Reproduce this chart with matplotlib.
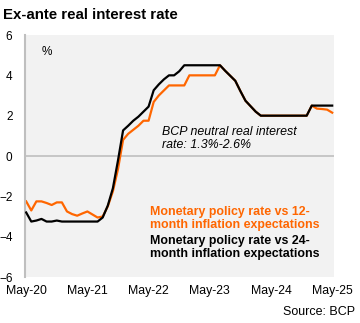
import matplotlib
matplotlib.use("Agg")
import matplotlib.pyplot as plt
import numpy as np

plt.rcParams['font.family'] = ['Liberation Sans', 'DejaVu Sans']

# Monthly observations, May-2020 .. May-2025
months = np.arange(61)
tick_labels = ["May-20", "May-21", "May-22", "May-23", "May-24", "May-25"]
tick_months = [0, 12, 24, 36, 48, 60]

real_rate_12m = [
    -2.25, -2.70, -2.25, -2.25, -2.33, -2.43, -2.30, -2.30, -2.75, -2.88,
    -2.96, -2.85, -2.75, -2.90, -3.05, -3.00, -2.50, -1.75, -0.65, 0.80,
    1.10, 1.30, 1.50, 1.75, 1.75, 2.68, 3.00, 3.25, 3.50, 3.50,
    3.50, 3.50, 4.00, 4.00, 4.00, 4.00, 4.00, 4.00, 4.50, 4.23,
    3.98, 3.73, 3.22, 2.74, 2.47, 2.20, 2.00, 2.00, 2.00, 2.00,
    2.00, 2.00, 2.00, 2.00, 2.00, 2.00, 2.50, 2.35, 2.33, 2.30,
    2.15,
]
real_rate_24m = [
    -2.80, -3.25, -3.20, -3.12, -3.25, -3.25, -3.20, -3.25, -3.25, -3.25,
    -3.25, -3.25, -3.25, -3.25, -3.25, -3.05, -2.46, -1.60, -0.22, 1.27,
    1.50, 1.75, 1.95, 2.20, 2.45, 3.26, 3.55, 3.80, 4.00, 4.00,
    4.20, 4.50, 4.50, 4.50, 4.50, 4.50, 4.50, 4.50, 4.50, 4.23,
    3.98, 3.73, 3.22, 2.74, 2.47, 2.20, 2.00, 2.00, 2.00, 2.00,
    2.00, 2.00, 2.00, 2.00, 2.00, 2.00, 2.50, 2.50, 2.50, 2.50,
    2.50,
]
y_ticks = [6, 4, 2, 0, -2, -4, -6]

ORANGE = "#ff6600"

fig = plt.figure(figsize=(3.6, 3.23), dpi=100)
ax = fig.add_axes([0.0694, 0.1424, 0.8583, 0.7492])
ax.set_facecolor("#f2f2f2")

ax.axhline(0, color="#bfbfbf", lw=1.2, zorder=1)
ax.plot(months, real_rate_12m, color=ORANGE, lw=1.6, zorder=2)
ax.plot(months, real_rate_24m, color="#000000", lw=1.6, zorder=3)

ax.set_xlim(-0.235, 60.35)
ax.set_ylim(-6, 6)
ax.set_xticks(tick_months)
ax.set_xticklabels(tick_labels)
ax.set_yticks(y_ticks)
ax.tick_params(axis="x", length=0, pad=6, labelsize=8.8)
ax.tick_params(axis="y", length=0, pad=9, labelsize=8.5)

for side in ("top", "right", "bottom"):
    ax.spines[side].set_visible(False)
ax.spines["left"].set_color("#bfbfbf")
ax.spines["left"].set_linewidth(1.5)

ax.text(0.055, 0.93, "%", transform=ax.transAxes, fontsize=8.5,
        ha="left", va="center")
ax.text(0.443, 0.572, "BCP neutral real interest\nrate: 1.3%-2.6%",
        transform=ax.transAxes, fontsize=8.9, style="italic",
        ha="left", va="center", linespacing=1.15)
ax.text(0.405, 0.243, "Monetary policy rate vs 12-\nmonth inflation expectations",
        transform=ax.transAxes, fontsize=8.9, fontweight="bold",
        color=ORANGE, ha="left", va="center", linespacing=1.15)
ax.text(0.405, 0.123, "Monetary policy rate vs 24-\nmonth inflation expectations",
        transform=ax.transAxes, fontsize=8.9, fontweight="bold",
        color="#000000", ha="left", va="center", linespacing=1.15)

fig.text(0.008, 0.955, "Ex-ante real interest rate", fontsize=10.8,
         fontweight="bold", ha="left", va="center")
fig.text(0.986, 0.034, "Source: BCP", fontsize=9, ha="right", va="center")

fig.savefig("out.png", dpi=100)
